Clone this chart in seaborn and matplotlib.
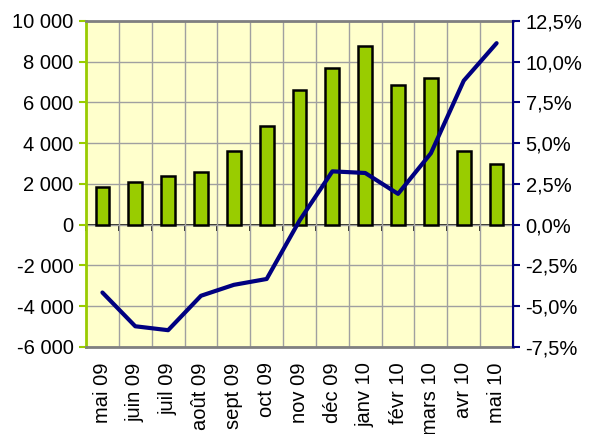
import numpy as np
import matplotlib
matplotlib.use("Agg")
import matplotlib.pyplot as plt
import seaborn as sns

# Données
mois = ["mai 09", "juin 09", "juil 09", "août 09", "sept 09", "oct 09", "nov 09",
        "déc 09", "janv 10", "févr 10", "mars 10", "avr 10", "mai 10"]
valeurs = [1850, 2100, 2400, 2580, 3620, 4820, 6590, 7680, 8780, 6830, 7210, 3620, 2970]
variation = [-4.16, -6.23, -6.47, -4.36, -3.69, -3.33, 0.25, 3.27, 3.17, 1.89, 4.38, 8.83, 11.13]

gauche_ticks = [-6000, -4000, -2000, 0, 2000, 4000, 6000, 8000, 10000]
droite_ticks = [-7.5, -5.0, -2.5, 0.0, 2.5, 5.0, 7.5, 10.0, 12.5]

sns.set_style("white")
plt.rcParams["font.family"] = ["Liberation Sans", "DejaVu Sans"]

fig, ax = plt.subplots(figsize=(5.89, 4.34), dpi=100)
fig.subplots_adjust(left=0.146, right=0.871, top=0.952, bottom=0.2005)
ax.set_facecolor("#FFFFCC")

sns.barplot(x=mois, y=valeurs, ax=ax, color="#99CC00", width=0.42,
            edgecolor="black", linewidth=1.8, saturation=1, zorder=3)

n = len(mois)
ax.set_xlim(-0.5, n - 0.5)
ax.set_ylim(-6000, 10000)
ax.set_yticks(gauche_ticks)
ax.set_yticklabels([f"{v:,}".replace(",", " ") for v in gauche_ticks])
ax.set_xticks(range(n))
ax.set_xticklabels(mois, rotation=90)
ax.tick_params(axis="x", length=0, pad=11, labelsize=14.5, colors="black")
ax.tick_params(axis="y", direction="out", length=5, width=1.5, color="#99CC00",
               labelcolor="black", labelsize=14.5, pad=4)

# grille
ax.set_xticks(np.arange(-0.5, n, 1), minor=True)
ax.tick_params(axis="x", which="minor", length=0)
ax.grid(True, which="minor", axis="x", color="#A0A0A0", lw=1, zorder=0)
ax.grid(True, which="major", axis="y", color="#A0A0A0", lw=1, zorder=0)
ax.set_axisbelow(True)

for side, col in [("left", "#99CC00"), ("top", "#808080"), ("bottom", "#808080"), ("right", "#808080")]:
    ax.spines[side].set_visible(True)
    ax.spines[side].set_color(col)
    ax.spines[side].set_linewidth(2 if side != "right" else 1)

# axe des abscisses au niveau zéro
sec = ax.secondary_xaxis(6000 / 16000)
sec.set_xticks(np.arange(-0.5, n, 1))
sec.set_xticklabels([])
sec.tick_params(direction="out", length=4, width=1.2, color="black")
sec.spines["bottom"].set_color("black")
sec.spines["bottom"].set_linewidth(1.2)

# variation en % sur l'axe de droite
ax2 = ax.twinx()
sns.lineplot(x=mois, y=variation, ax=ax2, sort=False, color="#000080", lw=3, zorder=4)
ax2.set_ylim(-7.5, 12.5)
ax2.set_yticks(droite_ticks)
ax2.set_yticklabels([f"{v:.1f}%".replace(".", ",") for v in droite_ticks])
ax2.tick_params(axis="y", direction="out", length=5, width=1.5, color="#000080",
                labelcolor="black", labelsize=14.5, pad=4)
for side in ["left", "top", "bottom"]:
    ax2.spines[side].set_visible(False)
ax2.spines["right"].set_color("#000080")
ax2.spines["right"].set_linewidth(1.5)
ax2.grid(False)

fig.savefig("out.png", dpi=100)
